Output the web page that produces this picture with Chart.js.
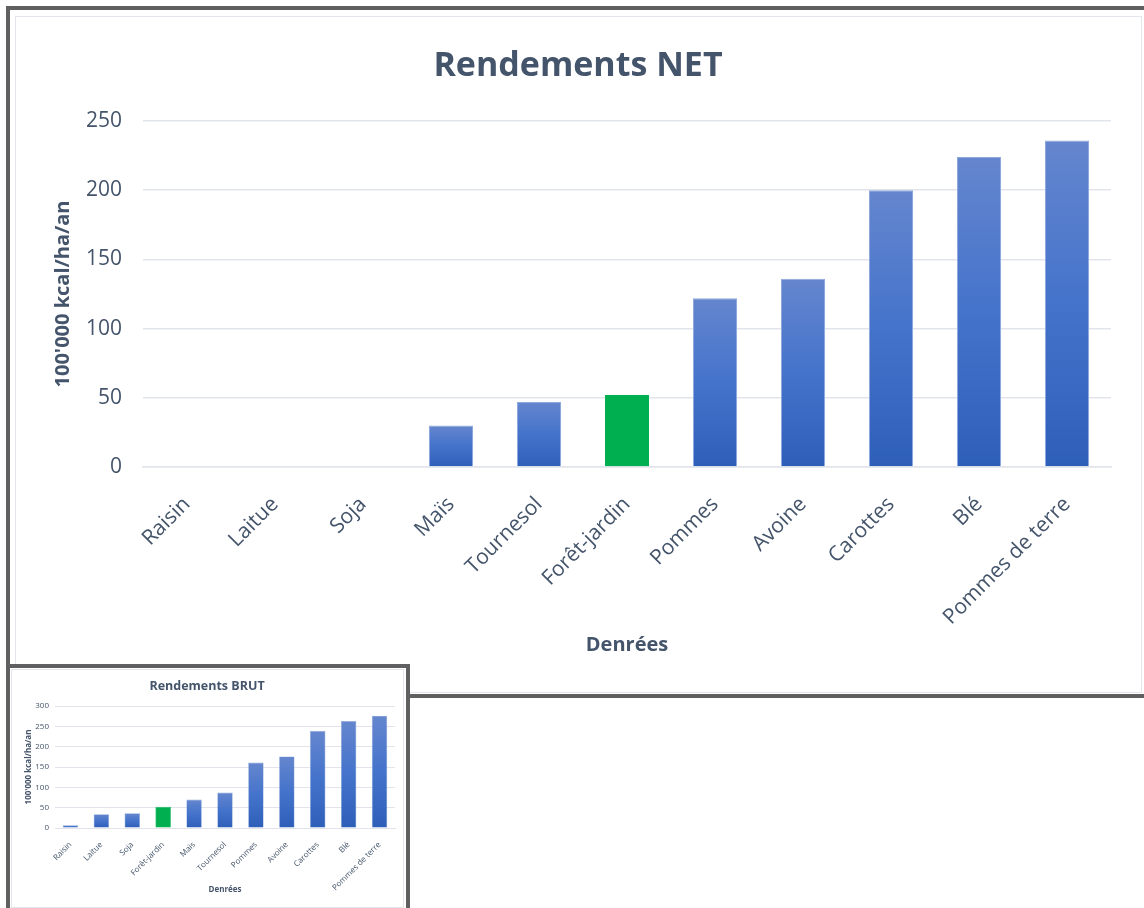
<!DOCTYPE html>
<html lang="fr">
<head>
<meta charset="utf-8">
<title>Rendements</title>
<script src="https://cdn.jsdelivr.net/npm/chart.js@4.4.1/dist/chart.umd.min.js"></script>
<style>
  html, body { margin: 0; padding: 0; background: #ffffff; }
  body { width: 1144px; height: 908px; overflow: hidden; position: relative; }
  .frame { position: absolute; box-sizing: border-box; border: 4px solid #606060; background: #ffffff; }
  .inner { position: absolute; box-sizing: border-box; border: 1px solid #e3e7ed; }
  canvas { position: absolute; }
  #netFrame { left: 6px; top: 6px; width: 1160px; height: 692px; }
  #netInner { left: 15px; top: 16px; width: 1127px; height: 677px; }
  #netChart { left: 16px; top: 17px; }
  #brutFrame { left: 6px; top: 664px; width: 404px; height: 250px; }
  #brutInner { left: 11px; top: 669px; width: 393px; height: 239px; }
  #brutChart { left: 12px; top: 670px; }
</style>
</head>
<body>
<div class="frame" id="netFrame"></div>
<div class="inner" id="netInner"></div>
<canvas id="netChart" width="1124" height="673"></canvas>
<div class="frame" id="brutFrame"></div>
<div class="inner" id="brutInner"></div>
<canvas id="brutChart" width="390" height="236"></canvas>
<script>
const netLabels = ["Raisin", "Laitue", "Soja", "Maïs", "Tournesol", "Forêt-jardin", "Pommes", "Avoine", "Carottes", "Blé", "Pommes de terre"];
const netValues = [0, 0, 0, 30, 47, 52, 122, 136, 200, 224, 236];
const netTicks = [0, 50, 100, 150, 200, 250];

const brutLabels = ["Raisin", "Laitue", "Soja", "Forêt-jardin", "Maïs", "Tournesol", "Pommes", "Avoine", "Carottes", "Blé", "Pommes de terre"];
const brutValues = [7, 34, 36, 52, 70, 87, 161, 176, 239, 263, 276];
const brutTicks = [0, 50, 100, 150, 200, 250, 300];

const highlight = "Forêt-jardin";
const textColor = "#44546a";
const gridColor = "#e1e5eb";
const green = "#00b050";

// blue bars fade from light at the top to dark at the base
function barFill(context) {
  const chart = context.chart;
  const labels = chart.data.labels;
  if (labels[context.dataIndex] === highlight) return green;
  const yScale = chart.scales.y;
  if (!chart.chartArea || !yScale) return "#4472c4";
  const top = yScale.getPixelForValue(context.raw);
  const base = yScale.getPixelForValue(0);
  if (base - top < 1) return "#2e5fb8";
  const g = chart.ctx.createLinearGradient(0, top, 0, base);
  g.addColorStop(0, "#6586ce");
  g.addColorStop(0.5, "#4473cb");
  g.addColorStop(1, "#2e5fb8");
  return g;
}

function barBorder(context) {
  const labels = context.chart.data.labels;
  return labels[context.dataIndex] === highlight ? green : "#8eaadc";
}

function makeChart(canvas, s) {
  return new Chart(canvas, {
    type: "bar",
    data: {
      labels: s.labels,
      datasets: [{
        data: s.values,
        backgroundColor: barFill,
        borderColor: barBorder,
        borderWidth: s.border,
        categoryPercentage: 1,
        barPercentage: 0.5
      }]
    },
    options: {
      responsive: false,
      animation: false,
      layout: { padding: { left: s.side, right: s.side, top: 0, bottom: 0 } },
      plugins: {
        legend: { display: false },
        tooltip: { enabled: false },
        title: {
          display: true,
          text: s.title,
          color: textColor,
          font: { family: "Open Sans", size: s.titleSize, weight: "bold" },
          padding: { top: s.titleTop, bottom: s.titleBottom }
        }
      },
      scales: {
        x: {
          grid: { display: false },
          border: { color: gridColor, width: s.grid },
          ticks: {
            color: textColor,
            font: { family: "Open Sans", size: s.tickSize },
            minRotation: 45,
            maxRotation: 45,
            autoSkip: false,
            padding: s.xPad
          },
          title: {
            display: true,
            text: "Denrées",
            color: textColor,
            font: { family: "Open Sans", size: s.axisSize, weight: "bold" },
            padding: { top: 0, bottom: s.xTitleBottom }
          },
          afterFit: function(scale) { scale.height = s.xHeight; }
        },
        y: {
          min: 0,
          max: s.ticks[s.ticks.length - 1],
          afterBuildTicks: function(scale) {
            scale.ticks = s.ticks.map(v => ({ value: v }));
          },
          grid: { color: gridColor, lineWidth: s.grid, drawTicks: false },
          border: { display: false },
          ticks: {
            color: textColor,
            font: { family: "Open Sans", size: s.tickSize },
            padding: s.yPad
          },
          title: {
            display: true,
            text: "100'000 kcal/ha/an",
            color: textColor,
            font: { family: "Open Sans", size: s.axisSize, weight: "bold" },
            padding: { top: s.yTitleLeft, bottom: 0 }
          },
          afterFit: function(scale) { scale.width = s.yWidth; }
        }
      }
    }
  });
}

makeChart(document.getElementById("netChart"), {
  labels: netLabels, values: netValues, ticks: netTicks,
  title: "Rendements NET", titleSize: 34, titleTop: 28.6, titleBottom: 34.6,
  side: 29, yWidth: 98, xHeight: 223, tickSize: 21, axisSize: 20,
  xPad: 17, yPad: 21, xTitleBottom: 33, yTitleLeft: 6, grid: 1.5, border: 1
});

makeChart(document.getElementById("brutChart"), {
  labels: brutLabels, values: brutValues, ticks: brutTicks,
  title: "Rendements BRUT", titleSize: 12.5, titleTop: 8.5, titleBottom: 12.5,
  side: 7, yWidth: 36, xHeight: 78, tickSize: 8, axisSize: 8,
  xPad: 4, yPad: 6, xTitleBottom: 11, yTitleLeft: 5.2, grid: 1, border: 0.6
});
</script>
</body>
</html>
